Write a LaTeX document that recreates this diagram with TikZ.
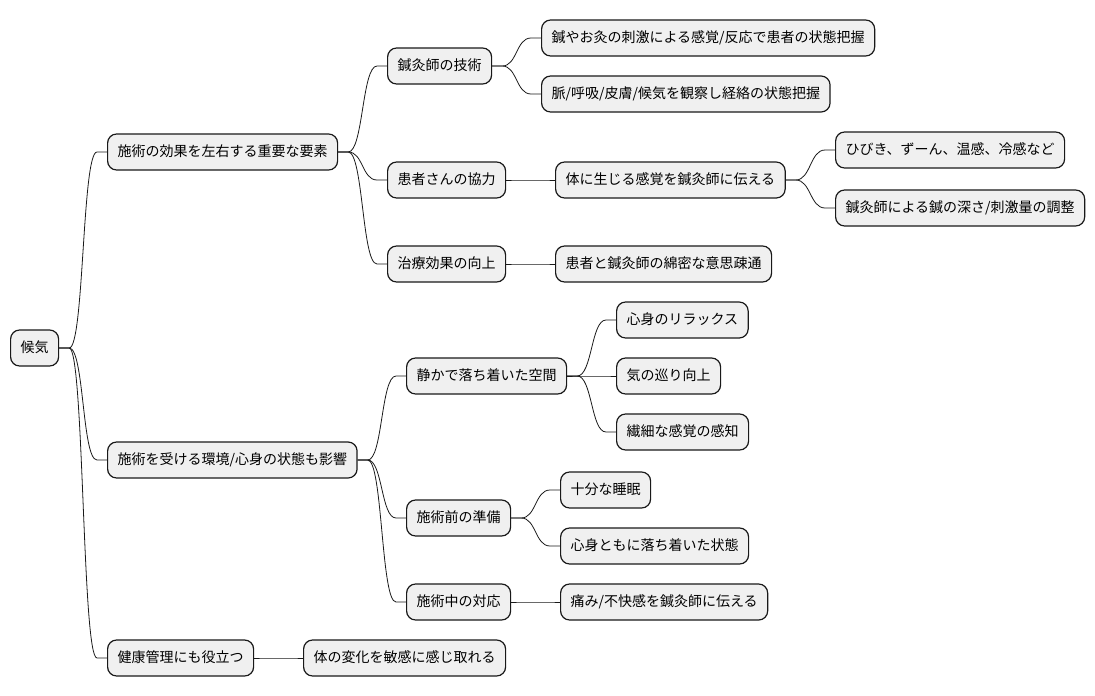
\documentclass[tikz,border=0pt]{standalone}
\usepackage{fontspec}
\setmainfont{Noto Sans CJK JP}
\usetikzlibrary{calc}

\begin{document}
\begin{tikzpicture}[x=1pt,y=-1pt,
  mnode/.style={draw=black!90, line width=1.2pt, fill=black!6, rounded corners=9pt,
    anchor=west, minimum height=36pt, inner xsep=10pt, inner ysep=0pt,
    text height=11pt, text depth=3pt, font=\fontsize{14}{16}\selectfont},
  branch/.style={line width=0.8pt, draw=black!90,
    to path={-- ++(10,0) .. controls +(15,0) and ($(\tikztotarget)+(-25,0)$) .. ($(\tikztotarget)+(-10,0)$) -- (\tikztotarget)}}]
\useasboundingbox (0,0) rectangle (1095,696);
              %level 0 and 1
\node [mnode] (root) at (10,348) {候気};
\node [mnode] (eff) at (107,152) {施術の効果を左右する重要な要素};
\node [mnode] (env) at (107,460) {施術を受ける環境/心身の状態も影響};
\node [mnode] (health) at (107,658) {健康管理にも役立つ};
              %level 2
\node [mnode] (tech) at (387,66) {鍼灸師の技術};
\node [mnode] (coop) at (387,180) {患者さんの協力};
\node [mnode] (res) at (387,264) {治療効果の向上};
\node [mnode] (space) at (406,376) {静かで落ち着いた空間};
\node [mnode] (prep) at (406,518) {施術前の準備};
\node [mnode] (during) at (406,602) {施術中の対応};
\node [mnode] (hdet) at (303,658) {体の変化を敏感に感じ取れる};
              %level 3
\node [mnode] (tech1) at (541,38) {鍼やお灸の刺激による感覚/反応で患者の状態把握};
\node [mnode] (tech2) at (541,94) {脈/呼吸/皮膚/候気を観察し経絡の状態把握};
\node [mnode] (coop1) at (555,180) {体に生じる感覚を鍼灸師に伝える};
\node [mnode] (res1) at (555,264) {患者と鍼灸師の綿密な意思疎通};
\node [mnode] (relax) at (616,320) {心身のリラックス};
\node [mnode] (flow) at (616,376) {気の巡り向上};
\node [mnode] (sense) at (616,432) {繊細な感覚の感知};
\node [mnode] (sleep) at (560,490) {十分な睡眠};
\node [mnode] (calm) at (560,546) {心身ともに落ち着いた状態};
\node [mnode] (during1) at (560,602) {痛み/不快感を鍼灸師に伝える};
              %level 4
\node [mnode] (coop1a) at (835,150) {ひびき、ずーん、温感、冷感など};
\node [mnode] (coop1b) at (835,208) {鍼灸師による鍼の深さ/刺激量の調整};
              %connect the branches
\foreach \a/\b in {root/eff,root/env,root/health,eff/tech,eff/coop,eff/res,
  env/space,env/prep,env/during,health/hdet,tech/tech1,tech/tech2,coop/coop1,
  res/res1,space/relax,space/flow,space/sense,prep/sleep,prep/calm,
  during/during1,coop1/coop1a,coop1/coop1b}{
\draw [branch] (\a.east) to (\b.west);
}
\end{tikzpicture}
\end{document}
